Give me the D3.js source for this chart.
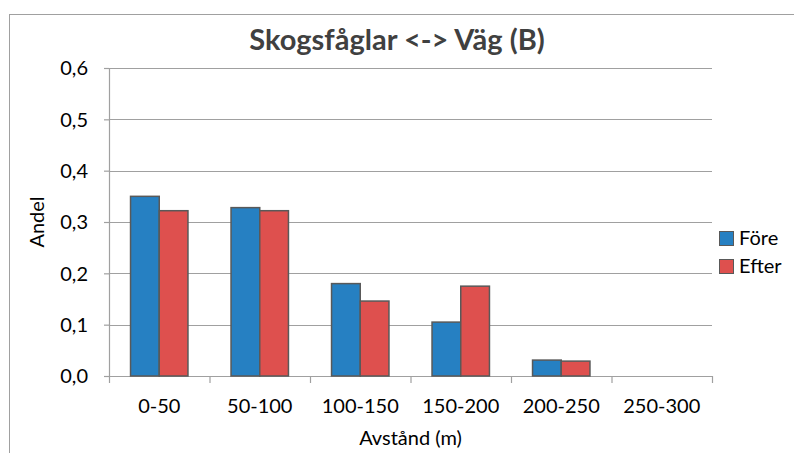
<!DOCTYPE html>
<html>
<head>
<meta charset="utf-8">
<script src="https://cdn.jsdelivr.net/npm/d3@7"></script>
<style>
  html, body { margin: 0; padding: 0; background: #fff; }
  svg { display: block; font-family: Lato, "Open Sans", sans-serif; }
</style>
</head>
<body>
<svg id="chart" width="794" height="453"></svg>
<script>
// Distance bands from the road
const categories = ["0-50", "50-100", "100-150", "150-200", "200-250", "250-300"];
// Share of forest-bird observations per band, before and after
const fore  = [0.350, 0.328, 0.180, 0.105, 0.031, 0.0];
const efter = [0.322, 0.322, 0.146, 0.175, 0.029, 0.0];
const seriesNames = ["Före", "Efter"];
const seriesColors = ["#2680c2", "#de504e"];
const yTicks = [0, 0.1, 0.2, 0.3, 0.4, 0.5, 0.6];

const svg = d3.select("#chart");
const W = 794, H = 453;
const margin = { left: 109, right: 82, top: 68, bottom: 77 };
const plotW = W - margin.left - margin.right;
const plotH = H - margin.top - margin.bottom;
const labelSize = 20;

// Chart area frame
svg.append("rect")
  .attr("x", 9.5).attr("y", 14.5)
  .attr("width", 800).attr("height", 460)
  .attr("fill", "#fff").attr("stroke", "#a0a0a0").attr("stroke-width", 1);

const g = svg.append("g").attr("transform", `translate(${margin.left},${margin.top})`);

const x = d3.scaleBand().domain(categories).range([0, plotW]).paddingInner(0).paddingOuter(0);
const y = d3.scaleLinear().domain([0, 0.6]).range([plotH, 0]);
const fmt = v => d3.format(".1f")(v).replace(".", ",");

// Horizontal gridlines
g.append("g").selectAll("line").data(yTicks.slice(1)).join("line")
  .attr("x1", 0).attr("x2", plotW)
  .attr("y1", d => Math.round(y(d)) + 0.5).attr("y2", d => Math.round(y(d)) + 0.5)
  .attr("stroke", "#a0a0a0").attr("stroke-width", 1.2);

// Y axis
const yAxis = g.append("g")
  .call(d3.axisLeft(y).tickValues(yTicks).tickFormat(fmt).tickSize(5).tickPadding(16));
yAxis.select(".domain").attr("stroke", "#a0a0a0").attr("stroke-width", 1.2);
yAxis.selectAll(".tick line").attr("stroke", "#a0a0a0").attr("stroke-width", 1.2);
yAxis.selectAll(".tick text").attr("font-size", labelSize).attr("fill", "#000")
  .attr("font-family", "Lato, sans-serif").attr("dy", "0.34em");

// X axis line and tick marks at band boundaries
const xg = g.append("g").attr("transform", `translate(0,${plotH})`);
xg.append("line").attr("x1", 0).attr("x2", plotW).attr("y1", 0.5).attr("y2", 0.5)
  .attr("stroke", "#a0a0a0").attr("stroke-width", 1.2);
const bounds = categories.map(c => x(c)).concat([plotW]);
xg.selectAll("line.tk").data(bounds).join("line").attr("class", "tk")
  .attr("x1", d => d + 0.5).attr("x2", d => d + 0.5).attr("y1", 0).attr("y2", 7)
  .attr("stroke", "#a0a0a0").attr("stroke-width", 1.2);
xg.selectAll("text").data(categories).join("text")
  .attr("x", d => x(d) + x.bandwidth() / 2).attr("y", 37)
  .attr("text-anchor", "middle").attr("font-size", labelSize).attr("fill", "#000")
  .text(d => d);

// Grouped bars
const inner = d3.scaleBand().domain(seriesNames).range([0, x.bandwidth()]).paddingOuter(0.75).paddingInner(0);
const rows = categories.map((c, i) => ({ cat: c, vals: [fore[i], efter[i]] }));
const grp = g.append("g").selectAll("g").data(rows).join("g")
  .attr("transform", d => `translate(${x(d.cat)},0)`);
grp.selectAll("rect").data(d => d.vals.map((v, k) => ({ v, k })).filter(e => e.v > 0)).join("rect")
  .attr("x", d => inner(seriesNames[d.k]))
  .attr("y", d => y(d.v))
  .attr("width", inner.bandwidth())
  .attr("height", d => plotH - y(d.v))
  .attr("fill", d => seriesColors[d.k])
  .attr("stroke", "#595959").attr("stroke-width", 1.5);

// Title
svg.append("text").attr("x", 397).attr("y", 50).attr("text-anchor", "middle")
  .attr("font-size", 29).attr("font-weight", "bold").attr("fill", "#404040")
  .text("Skogsfåglar <-> Väg (B)");

// Axis titles
svg.append("text").attr("x", margin.left + plotW / 2).attr("y", 445)
  .attr("text-anchor", "middle").attr("font-size", labelSize).attr("fill", "#000")
  .text("Avstånd (m)");
svg.append("text").attr("transform", "translate(44,222) rotate(-90)")
  .attr("text-anchor", "middle").attr("font-size", labelSize).attr("fill", "#000")
  .text("Andel");

// Legend
const lg = svg.append("g").attr("transform", "translate(719,231)");
seriesNames.forEach((n, i) => {
  lg.append("rect").attr("x", 0.5).attr("y", i * 28 + 0.5).attr("width", 14).attr("height", 14)
    .attr("fill", seriesColors[i]).attr("stroke", "#595959").attr("stroke-width", 1);
  lg.append("text").attr("x", 20).attr("y", i * 28 + 14).attr("font-size", labelSize).attr("fill", "#000")
    .text(n);
});
</script>
</body>
</html>
